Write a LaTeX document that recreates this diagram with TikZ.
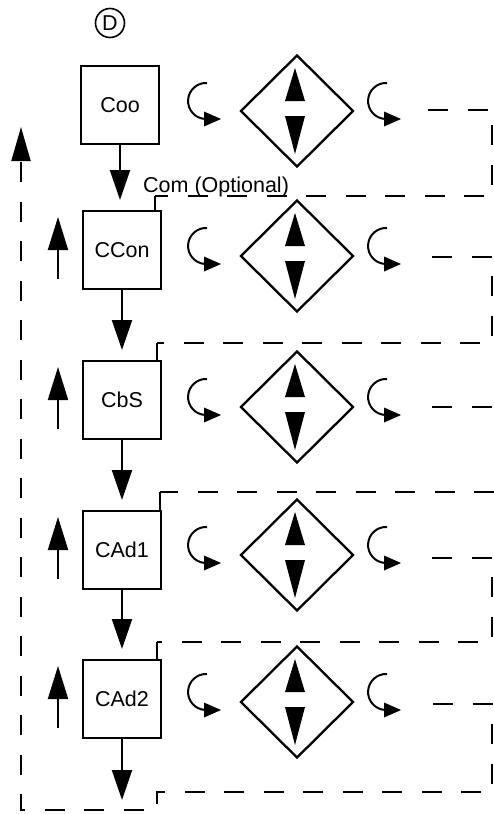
\documentclass[tikz,border=0pt]{standalone}
\usepackage{fontspec}
\setmainfont{Liberation Sans}
\usetikzlibrary{arrows.meta,shapes.geometric}
\newcommand\boxfont{\fontsize{21.5}{24}\selectfont}
\begin{document}
\begin{tikzpicture}[x=1pt,y=-1pt,line join=miter,
  lw/.style={line width=2pt},
  box/.style={draw, line width=2pt, minimum width=78pt, minimum height=78pt, inner sep=0pt, font=\boxfont},
  dia/.style={draw, diamond, line width=2.3pt, minimum width=113pt, minimum height=112pt, inner sep=0pt},
  ret/.style={line width=2pt, dash pattern=on 20pt off 19.5pt},
  flow/.style={line width=2pt, -{Triangle[length=30pt,width=20pt]}},
  upar/.style={line width=2pt, -{Triangle[length=33pt,width=20pt]}}]
\useasboundingbox (0,0) rectangle (494,814);

\node[circle, draw, line width=1.6pt, minimum size=29pt, inner sep=0pt, font=\boxfont] (dn) at (110,23) {D};

\node[box] (coo)  at (120,105) {Coo};
\node[box] (ccon) at (122,250) {CCon};
\node[box] (cbs)  at (122,400) {CbS};
\node[box] (cad1) at (122,550) {CAd1};
\node[box] (cad2) at (122,699) {CAd2};

% down arrows
\coordinate (endpt) at (122,800);
\draw[flow] (coo.south) -- ([yshift=10pt]coo.south |- ccon.north);
\draw[flow] (ccon.south) -- ([yshift=10pt]cbs.north);
\draw[flow] (cbs.south) -- ([yshift=10pt]cad1.north);
\draw[flow] (cad1.south) -- ([yshift=10pt]cad2.north);
\draw[flow] (cad2.south) -- (endpt);

% up arrows left of boxes
\foreach \b in {ccon,cbs,cad1,cad2}{
  \draw[upar] ([xshift=-64pt,yshift=-29pt]\b.center) -- ([xshift=-64pt,yshift=33pt]\b.center);
}

% diamonds with inner triangles and curved arrows
\foreach \i/\dy in {1/111,2/256,3/407,4/555,5/702}{
  \node[dia] (d\i) at (297,\dy) {};
  \fill (295,\dy-43) -- (305,\dy-10) -- (285,\dy-10) -- cycle;
  \fill (285,\dy+5) -- (305,\dy+5) -- (295,\dy+43) -- cycle;
  % left curved arrow
  \draw[line width=2pt] (207,\dy-28) arc[start angle=273, end angle=95, radius=18];
  \fill (204,\dy+0.5) -- (221,\dy+8) -- (204,\dy+15.5) -- cycle;
  % right curved arrow
  \draw[line width=2pt] (387,\dy-28) arc[start angle=273, end angle=95, radius=18];
  \fill (384,\dy+0.5) -- (401,\dy+8) -- (384,\dy+15.5) -- cycle;
}

% return lines
\coordinate (k1) at (155,196);
\draw[ret] (428,110) -- (492,110) -- (492,196) -- (k1);
\draw[lw] (k1) -- (k1 |- ccon.north);
\node[anchor=base west, inner sep=0pt, font=\boxfont] (opt) at (143,192) {Com (Optional)};

\coordinate (k2) at (157,343);
\draw[ret] (432,257) -- (492,257) -- (492,343) -- (k2);
\draw[lw] (k2) -- (k2 |- cbs.north);

\draw[ret] (432,407) -- (492,407);

\coordinate (k3) at (160,492);
\draw[ret] (494,492) -- (k3);
\draw[lw] (k3) -- (k3 |- cad1.north);

\coordinate (k4) at (157,642);
\draw[ret] (432,558) -- (492,558) -- (492,642) -- (k4);
\draw[lw] (k4) -- (k4 |- cad2.north);

\draw[ret, -{Triangle[length=34pt,width=19pt]}] (433,704) -- (492,704) -- (492,792) -- (157,792) -- (157,810) -- (21,810) -- (21,127);
\end{tikzpicture}
\end{document}
